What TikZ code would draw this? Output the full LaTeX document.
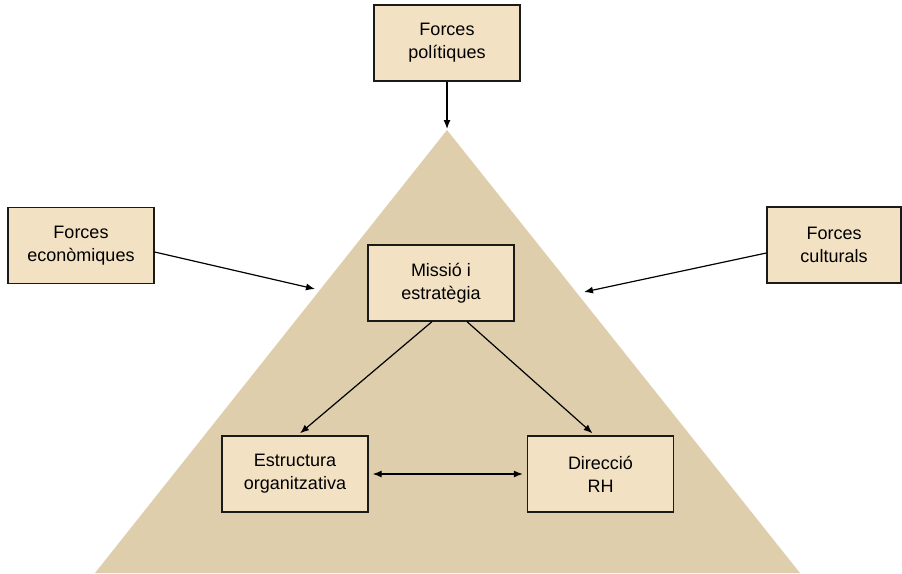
\documentclass[tikz,border=0pt]{standalone}
\usepackage{fontspec}
\setmainfont{Liberation Sans}
\usetikzlibrary{arrows.meta}
\definecolor{boxfill}{HTML}{F2E1C3}
\definecolor{trifill}{HTML}{DECEAC}
\definecolor{edgecol}{HTML}{1A1A1A}
\tikzset{
  forcebox/.style={draw=edgecol, line width=1.3pt, fill=boxfill, minimum width=146pt, minimum height=76pt,
    inner sep=0pt, align=center, font=\fontsize{18}{23}\selectfont},
  link/.style={draw=black, line width=1.2pt, -{Latex[length=9pt,width=7pt]}},
  dlink/.style={draw=black, line width=1.2pt, {Latex[length=9pt,width=7pt]}-{Latex[length=9pt,width=7pt]}}
}
\begin{document}
\begin{tikzpicture}[x=1pt,y=-1pt]
\useasboundingbox (0,0) rectangle (902,573);
\begin{scope}
\clip (0,0) rectangle (902,573);
\fill[trifill] (447,130) -- (800,573) -- (95,573) -- cycle;
\end{scope}
\coordinate (apex) at (447,129);
\coordinate (econend) at (315,289);
\coordinate (cultend) at (584,292);
\node[forcebox] (pol) at (447,43) {Forces\\polítiques};
\node[forcebox] (econ) at (81,245.5) {Forces\\econòmiques};
\node[forcebox, minimum width=134pt] (cult) at (834,245) {Forces\\culturals};
\node[forcebox] (mis) at (441,283) {Missió i\\estratègia};
\node[forcebox] (est) at (295,474) {Estructura\\organitzativa};
\node[forcebox] (dir) at (600.5,474) {Direcció\\RH};
\draw[link] (pol.south) -- (apex);
\draw[link] ([yshift=-6.5pt]econ.east) -- (econend);
\draw[link] ([yshift=-8pt]cult.west) -- (cultend);
\draw[link] ([xshift=-9pt]mis.south) -- ([xshift=5pt,yshift=2pt]est.north);
\draw[link] ([xshift=26pt]mis.south) -- ([xshift=-8pt,yshift=2pt]dir.north);
\draw[dlink, shorten <=4pt, shorten >=4pt] (est.east) -- (dir.west);
\end{tikzpicture}
\end{document}
